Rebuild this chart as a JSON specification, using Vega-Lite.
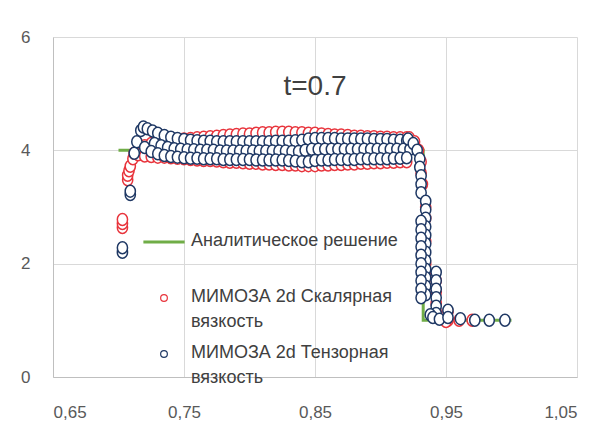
{
  "$schema": "https://vega.github.io/schema/vega-lite/v6.json",
  "width": 524,
  "height": 340,
  "autosize": {"type": "none"},
  "padding": {"left": 53, "top": 37, "right": 36, "bottom": 64},
  "background": "white",
  "title": {"text": "t=0.7", "fontSize": 28, "font": "Liberation Sans", "fontWeight": "normal", "color": "#404040", "anchor": "middle", "frame": "group", "baseline": "alphabetic", "offset": -95},
  "config": {
    "view": {"stroke": null},
    "axis": {"labelFont": "Liberation Sans", "labelFontSize": 17, "labelColor": "#595959", "gridColor": "#d9d9d9", "gridWidth": 1, "domainColor": "#bfbfbf", "ticks": false, "title": null}
  },
  "data": {"values": [
    {"s":"A","x":0.70,"y":4},{"s":"A","x":0.9326,"y":4},{"s":"A","x":0.9326,"y":1},{"s":"A","x":1.0,"y":1},

    {"s":"S","x":0.703,"y":2.64},{"s":"S","x":0.703,"y":2.71},{"s":"S","x":0.703,"y":2.78},{"s":"S","x":0.707,"y":3.48},{"s":"S","x":0.707,"y":3.56},{"s":"S","x":0.708,"y":3.64},{"s":"S","x":0.709,"y":3.72},{"s":"S","x":0.711,"y":3.85},{"s":"S","x":0.712,"y":3.95},
    {"s":"S","x":0.715,"y":4.00},{"s":"S","x":0.72,"y":4.08},{"s":"S","x":0.725,"y":4.12},{"s":"S","x":0.73,"y":4.15},{"s":"S","x":0.735,"y":4.17},{"s":"S","x":0.74,"y":4.18},{"s":"S","x":0.745,"y":4.19},{"s":"S","x":0.75,"y":4.20},{"s":"S","x":0.755,"y":4.21},{"s":"S","x":0.76,"y":4.22},{"s":"S","x":0.765,"y":4.23},{"s":"S","x":0.77,"y":4.24},{"s":"S","x":0.775,"y":4.25},{"s":"S","x":0.78,"y":4.26},{"s":"S","x":0.785,"y":4.27},{"s":"S","x":0.79,"y":4.28},{"s":"S","x":0.795,"y":4.29},{"s":"S","x":0.80,"y":4.29},{"s":"S","x":0.805,"y":4.30},{"s":"S","x":0.81,"y":4.31},{"s":"S","x":0.815,"y":4.31},{"s":"S","x":0.82,"y":4.32},{"s":"S","x":0.825,"y":4.32},{"s":"S","x":0.83,"y":4.32},{"s":"S","x":0.835,"y":4.31},{"s":"S","x":0.84,"y":4.31},{"s":"S","x":0.845,"y":4.30},{"s":"S","x":0.85,"y":4.30},{"s":"S","x":0.855,"y":4.29},{"s":"S","x":0.86,"y":4.28},{"s":"S","x":0.865,"y":4.27},{"s":"S","x":0.87,"y":4.27},{"s":"S","x":0.875,"y":4.26},{"s":"S","x":0.88,"y":4.25},{"s":"S","x":0.885,"y":4.25},{"s":"S","x":0.89,"y":4.24},{"s":"S","x":0.895,"y":4.24},{"s":"S","x":0.90,"y":4.23},{"s":"S","x":0.905,"y":4.23},{"s":"S","x":0.91,"y":4.22},{"s":"S","x":0.915,"y":4.22},{"s":"S","x":0.92,"y":4.22},
    {"s":"S","x":0.715,"y":3.92},{"s":"S","x":0.72,"y":3.90},{"s":"S","x":0.725,"y":3.89},{"s":"S","x":0.73,"y":3.88},{"s":"S","x":0.735,"y":3.88},{"s":"S","x":0.74,"y":3.87},{"s":"S","x":0.745,"y":3.86},{"s":"S","x":0.75,"y":3.85},{"s":"S","x":0.755,"y":3.84},{"s":"S","x":0.76,"y":3.83},{"s":"S","x":0.765,"y":3.82},{"s":"S","x":0.77,"y":3.82},{"s":"S","x":0.775,"y":3.81},{"s":"S","x":0.78,"y":3.80},{"s":"S","x":0.785,"y":3.79},{"s":"S","x":0.79,"y":3.79},{"s":"S","x":0.795,"y":3.78},{"s":"S","x":0.80,"y":3.77},{"s":"S","x":0.805,"y":3.77},{"s":"S","x":0.81,"y":3.76},{"s":"S","x":0.815,"y":3.76},{"s":"S","x":0.82,"y":3.75},{"s":"S","x":0.825,"y":3.75},{"s":"S","x":0.83,"y":3.74},{"s":"S","x":0.835,"y":3.74},{"s":"S","x":0.84,"y":3.73},{"s":"S","x":0.845,"y":3.73},{"s":"S","x":0.85,"y":3.73},{"s":"S","x":0.855,"y":3.74},{"s":"S","x":0.86,"y":3.74},{"s":"S","x":0.865,"y":3.75},{"s":"S","x":0.87,"y":3.75},{"s":"S","x":0.875,"y":3.76},{"s":"S","x":0.88,"y":3.76},{"s":"S","x":0.885,"y":3.77},{"s":"S","x":0.89,"y":3.77},{"s":"S","x":0.895,"y":3.78},{"s":"S","x":0.90,"y":3.78},{"s":"S","x":0.905,"y":3.79},{"s":"S","x":0.91,"y":3.79},{"s":"S","x":0.915,"y":3.80},{"s":"S","x":0.92,"y":3.80},
    {"s":"S","x":0.922,"y":4.22},{"s":"S","x":0.926,"y":4.15},{"s":"S","x":0.929,"y":4.0},{"s":"S","x":0.931,"y":3.8},{"s":"S","x":0.931,"y":3.6},{"s":"S","x":0.932,"y":3.4},{"s":"S","x":0.9345,"y":3.0},{"s":"S","x":0.9345,"y":2.8},{"s":"S","x":0.932,"y":2.6},{"s":"S","x":0.9345,"y":2.4},{"s":"S","x":0.932,"y":2.2},{"s":"S","x":0.9345,"y":2.0},{"s":"S","x":0.9345,"y":1.8},{"s":"S","x":0.9425,"y":1.7},{"s":"S","x":0.9425,"y":1.5},{"s":"S","x":0.9425,"y":1.3},{"s":"S","x":0.9425,"y":1.15},{"s":"S","x":0.9515,"y":1.15},{"s":"S","x":0.9515,"y":1.0},{"s":"S","x":0.95,"y":0.98},{"s":"S","x":0.96,"y":1.0},{"s":"S","x":0.97,"y":1.0},

    {"s":"T","x":0.703,"y":2.2},{"s":"T","x":0.703,"y":2.28},{"s":"T","x":0.709,"y":3.22},{"s":"T","x":0.709,"y":3.28},{"s":"T","x":0.712,"y":3.95},{"s":"T","x":0.714,"y":4.15},{"s":"T","x":0.717,"y":4.35},{"s":"T","x":0.719,"y":4.41},
    {"s":"T","x":0.722,"y":4.38},{"s":"T","x":0.726,"y":4.34},{"s":"T","x":0.73,"y":4.30},{"s":"T","x":0.735,"y":4.26},{"s":"T","x":0.74,"y":4.23},{"s":"T","x":0.745,"y":4.21},{"s":"T","x":0.75,"y":4.19},{"s":"T","x":0.755,"y":4.18},{"s":"T","x":0.76,"y":4.17},{"s":"T","x":0.765,"y":4.16},{"s":"T","x":0.77,"y":4.16},{"s":"T","x":0.775,"y":4.15},{"s":"T","x":0.78,"y":4.15},{"s":"T","x":0.785,"y":4.15},{"s":"T","x":0.79,"y":4.15},{"s":"T","x":0.795,"y":4.15},{"s":"T","x":0.80,"y":4.15},{"s":"T","x":0.805,"y":4.15},{"s":"T","x":0.81,"y":4.15},{"s":"T","x":0.815,"y":4.15},{"s":"T","x":0.82,"y":4.16},{"s":"T","x":0.825,"y":4.16},{"s":"T","x":0.83,"y":4.16},{"s":"T","x":0.835,"y":4.17},{"s":"T","x":0.84,"y":4.18},{"s":"T","x":0.845,"y":4.20},{"s":"T","x":0.85,"y":4.21},{"s":"T","x":0.855,"y":4.21},{"s":"T","x":0.86,"y":4.21},{"s":"T","x":0.865,"y":4.21},{"s":"T","x":0.87,"y":4.20},{"s":"T","x":0.875,"y":4.20},{"s":"T","x":0.88,"y":4.20},{"s":"T","x":0.885,"y":4.20},{"s":"T","x":0.89,"y":4.20},{"s":"T","x":0.895,"y":4.19},{"s":"T","x":0.90,"y":4.19},{"s":"T","x":0.905,"y":4.19},{"s":"T","x":0.91,"y":4.18},{"s":"T","x":0.915,"y":4.18},{"s":"T","x":0.92,"y":4.17},
    {"s":"T","x":0.7275,"y":4.12},{"s":"T","x":0.7325,"y":4.08},{"s":"T","x":0.7375,"y":4.05},{"s":"T","x":0.7425,"y":4.03},{"s":"T","x":0.7475,"y":4.02},{"s":"T","x":0.7525,"y":4.01},{"s":"T","x":0.7575,"y":4.01},{"s":"T","x":0.7625,"y":4.00},{"s":"T","x":0.7675,"y":4.00},{"s":"T","x":0.7725,"y":4.00},{"s":"T","x":0.7775,"y":3.99},{"s":"T","x":0.7825,"y":3.99},{"s":"T","x":0.7875,"y":3.99},{"s":"T","x":0.7925,"y":3.99},{"s":"T","x":0.7975,"y":3.99},{"s":"T","x":0.8025,"y":3.99},{"s":"T","x":0.8075,"y":3.99},{"s":"T","x":0.8125,"y":3.99},{"s":"T","x":0.8175,"y":3.99},{"s":"T","x":0.8225,"y":3.99},{"s":"T","x":0.8275,"y":3.99},{"s":"T","x":0.8325,"y":3.98},{"s":"T","x":0.8375,"y":3.98},{"s":"T","x":0.8425,"y":4.00},{"s":"T","x":0.8475,"y":4.02},{"s":"T","x":0.8525,"y":4.02},{"s":"T","x":0.8575,"y":4.02},{"s":"T","x":0.8625,"y":4.02},{"s":"T","x":0.8675,"y":4.02},{"s":"T","x":0.8725,"y":4.02},{"s":"T","x":0.8775,"y":4.02},{"s":"T","x":0.8825,"y":4.02},{"s":"T","x":0.8875,"y":4.02},{"s":"T","x":0.8925,"y":4.02},{"s":"T","x":0.8975,"y":4.02},{"s":"T","x":0.9025,"y":4.02},{"s":"T","x":0.9075,"y":4.02},{"s":"T","x":0.9125,"y":4.02},{"s":"T","x":0.9175,"y":4.02},{"s":"T","x":0.9225,"y":4.02},
    {"s":"T","x":0.72,"y":4.05},{"s":"T","x":0.725,"y":3.98},{"s":"T","x":0.73,"y":3.94},{"s":"T","x":0.735,"y":3.91},{"s":"T","x":0.74,"y":3.89},{"s":"T","x":0.745,"y":3.88},{"s":"T","x":0.75,"y":3.87},{"s":"T","x":0.755,"y":3.86},{"s":"T","x":0.76,"y":3.86},{"s":"T","x":0.765,"y":3.85},{"s":"T","x":0.77,"y":3.85},{"s":"T","x":0.775,"y":3.85},{"s":"T","x":0.78,"y":3.84},{"s":"T","x":0.785,"y":3.84},{"s":"T","x":0.79,"y":3.84},{"s":"T","x":0.795,"y":3.84},{"s":"T","x":0.80,"y":3.84},{"s":"T","x":0.805,"y":3.83},{"s":"T","x":0.81,"y":3.83},{"s":"T","x":0.815,"y":3.83},{"s":"T","x":0.82,"y":3.83},{"s":"T","x":0.825,"y":3.83},{"s":"T","x":0.83,"y":3.82},{"s":"T","x":0.835,"y":3.81},{"s":"T","x":0.84,"y":3.80},{"s":"T","x":0.845,"y":3.80},{"s":"T","x":0.85,"y":3.82},{"s":"T","x":0.855,"y":3.83},{"s":"T","x":0.86,"y":3.83},{"s":"T","x":0.865,"y":3.84},{"s":"T","x":0.87,"y":3.84},{"s":"T","x":0.875,"y":3.84},{"s":"T","x":0.88,"y":3.84},{"s":"T","x":0.885,"y":3.85},{"s":"T","x":0.89,"y":3.85},{"s":"T","x":0.895,"y":3.85},{"s":"T","x":0.90,"y":3.85},{"s":"T","x":0.905,"y":3.85},{"s":"T","x":0.91,"y":3.86},{"s":"T","x":0.915,"y":3.86},{"s":"T","x":0.92,"y":3.87},
    {"s":"T","x":0.921,"y":4.20},{"s":"T","x":0.925,"y":4.12},{"s":"T","x":0.928,"y":4.0},{"s":"T","x":0.930,"y":3.85},{"s":"T","x":0.930,"y":3.7},{"s":"T","x":0.931,"y":3.55},{"s":"T","x":0.931,"y":3.4},{"s":"T","x":0.931,"y":3.25},
    {"s":"T","x":0.9345,"y":3.1},{"s":"T","x":0.9345,"y":2.95},{"s":"T","x":0.9345,"y":2.8},{"s":"T","x":0.9345,"y":2.65},{"s":"T","x":0.9345,"y":2.5},{"s":"T","x":0.9345,"y":2.35},{"s":"T","x":0.9345,"y":2.2},{"s":"T","x":0.9345,"y":2.05},{"s":"T","x":0.9345,"y":1.9},{"s":"T","x":0.9345,"y":1.75},{"s":"T","x":0.9345,"y":1.6},{"s":"T","x":0.9345,"y":1.45},
    {"s":"T","x":0.931,"y":2.75},{"s":"T","x":0.931,"y":2.6},{"s":"T","x":0.931,"y":2.45},{"s":"T","x":0.931,"y":2.3},{"s":"T","x":0.931,"y":2.15},{"s":"T","x":0.931,"y":2.0},{"s":"T","x":0.931,"y":1.85},{"s":"T","x":0.931,"y":1.7},{"s":"T","x":0.931,"y":1.55},{"s":"T","x":0.931,"y":1.4},
    {"s":"T","x":0.9425,"y":1.85},{"s":"T","x":0.9425,"y":1.7},{"s":"T","x":0.9425,"y":1.55},{"s":"T","x":0.9425,"y":1.4},{"s":"T","x":0.9425,"y":1.25},{"s":"T","x":0.9425,"y":1.12},
    {"s":"T","x":0.938,"y":1.1},{"s":"T","x":0.94,"y":1.05},{"s":"T","x":0.945,"y":1.02},
    {"s":"T","x":0.9515,"y":1.18},{"s":"T","x":0.9515,"y":1.05},{"s":"T","x":0.961,"y":1.03},{"s":"T","x":0.972,"y":1.0},{"s":"T","x":0.983,"y":1.0},{"s":"T","x":0.995,"y":1.0}
  ]},
  "encoding": {
    "x": {"field": "x", "type": "quantitative", "scale": {"domain": [0.65, 1.05], "nice": false, "zero": false},
      "axis": {"values": [0.65, 0.75, 0.85, 0.95, 1.05], "labelExpr": "replace(format(datum.value, '.2f'), '.', ',')", "labelPadding": 27, "domain": true, "grid": true}},
    "y": {"field": "y", "type": "quantitative", "scale": {"domain": [0, 6], "nice": false},
      "axis": {"values": [0, 2, 4, 6], "labelPadding": 23, "domain": true, "grid": true}},
    "stroke": {"field": "s", "type": "nominal",
      "scale": {"domain": ["A", "S", "T"], "range": ["#70ad47", "#e8343c", "#1f3864"]},
      "legend": {
        "title": null, "orient": "none", "legendX": 102, "legendY": 196,
        "symbolSize": 1700, "symbolStrokeWidth": 3,
        "labelFont": "Liberation Sans", "labelFontSize": 18, "labelColor": "#404040", "labelLimit": 400,
        "labelOffset": 18, "rowPadding": 13, "labelBaseline": "top",
        "labelExpr": "datum.value === 'A' ? ['Аналитическое решение', ' '] : datum.value === 'S' ? ['МИМОЗА 2d Скалярная', 'вязкость'] : ['МИМОЗА 2d Тензорная', 'вязкость']",
        "encode": {
          "symbols": {"update": {
            "shape": {"signal": "datum.value === 'A' ? 'stroke' : 'circle'"},
            "size": {"signal": "datum.value === 'A' ? 1700 : 45"},
            "strokeWidth": {"signal": "datum.value === 'A' ? 3 : 1.2"},
            "fill": {"signal": "datum.value === 'A' ? 'transparent' : 'white'"}
          }},
          "labels": {"update": {"lineHeight": {"value": 25}, "dy": {"value": -10}}}
        }
      }}
  },
  "layer": [
    {"transform": [{"filter": "datum.s === 'A'"}], "mark": {"type": "line", "strokeWidth": 3}},
    {"transform": [{"filter": "datum.s !== 'A'"}], "mark": {"type": "point", "shape": "M -0.85 0 A 0.85 1 0 1 0 0.85 0 A 0.85 1 0 1 0 -0.85 0 Z", "filled": true, "fill": "white", "fillOpacity": 1, "strokeWidth": 1.5, "size": 144, "opacity": 1}}
  ]
}
